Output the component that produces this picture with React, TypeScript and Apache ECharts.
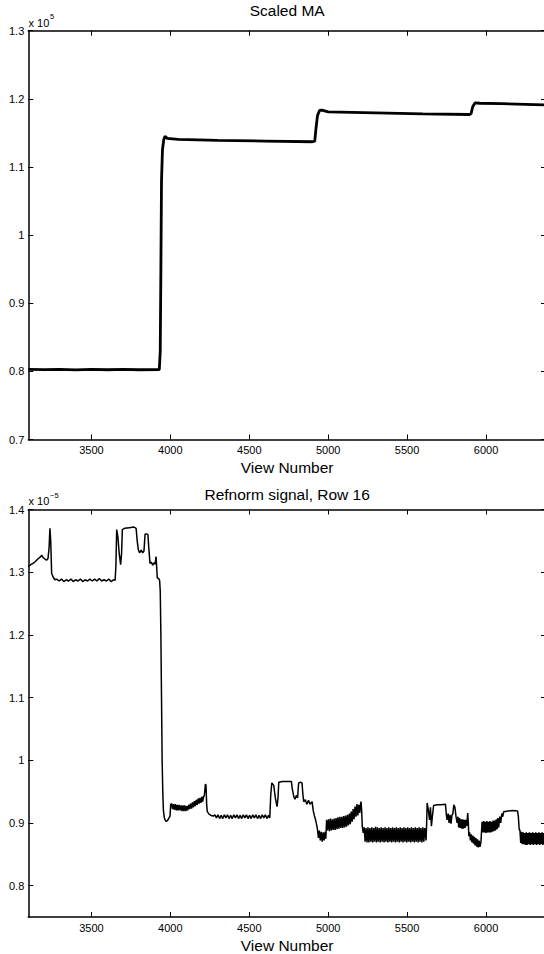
import React, { useEffect, useRef } from "react";
import * as echarts from "echarts";

// View number ticks
const xTickValues = [3500, 4000, 4500, 5000, 5500, 6000];
const viewMin = 3100;
const viewMax = 6380;

// Scaled MA (x 10^5)
const scaledMaTicks = [0.7, 0.8, 0.9, 1, 1.1, 1.2, 1.3];
const scaledMaPoints: [number, number][] = [
  [3100, 0.803], [3200, 0.8025], [3300, 0.8028], [3400, 0.8022], [3500, 0.803], [3600, 0.8024],
  [3700, 0.8028], [3800, 0.8024], [3930, 0.8025], [3936, 0.83], [3940, 0.95], [3944, 1.08],
  [3950, 1.125], [3958, 1.14], [3966, 1.145], [3980, 1.142], [4050, 1.1405], [4300, 1.139],
  [4600, 1.138], [4900, 1.137], [4915, 1.138], [4922, 1.155], [4932, 1.175], [4945, 1.183],
  [4960, 1.1835], [5000, 1.181], [5300, 1.1795], [5600, 1.178], [5895, 1.177], [5905, 1.178],
  [5915, 1.188], [5930, 1.194], [5960, 1.1935], [6100, 1.193], [6250, 1.192], [6380, 1.191],
];

// Refnorm signal, Row 16 (x 10^-5)
const refnormTicks = [0.8, 0.9, 1, 1.1, 1.2, 1.3, 1.4];
const refnormPoints: [number, number][] = [
  [3100, 1.309], [3115, 1.312], [3130, 1.314], [3145, 1.317], [3160, 1.321], [3175, 1.324],
  [3185, 1.327], [3195, 1.323], [3205, 1.321], [3215, 1.319], [3225, 1.322], [3232, 1.34],
  [3237, 1.37], [3242, 1.35], [3248, 1.298], [3258, 1.292], [3269, 1.288],
  [3280, 1.289], [3295, 1.286], [3310, 1.289], [3325, 1.285], [3340, 1.288], [3355, 1.286],
  [3370, 1.289], [3385, 1.285], [3400, 1.288], [3415, 1.286], [3430, 1.289], [3445, 1.285],
  [3460, 1.288], [3475, 1.286], [3490, 1.289], [3505, 1.286], [3520, 1.289], [3535, 1.286],
  [3550, 1.29], [3565, 1.286], [3580, 1.288], [3595, 1.286], [3610, 1.289], [3625, 1.285],
  [3640, 1.288], [3650, 1.287],
  [3655, 1.31], [3660, 1.368], [3668, 1.355], [3676, 1.33], [3685, 1.312], [3691, 1.33],
  [3696, 1.368], [3710, 1.37], [3740, 1.371], [3770, 1.372], [3783, 1.37], [3790, 1.35],
  [3797, 1.336], [3805, 1.331], [3815, 1.335], [3825, 1.331], [3833, 1.334], [3837, 1.35],
  [3840, 1.361], [3850, 1.361], [3858, 1.36], [3863, 1.34], [3871, 1.314], [3880, 1.316],
  [3888, 1.311], [3896, 1.315], [3903, 1.313], [3907, 1.32], [3909, 1.325], [3913, 1.31],
  [3917, 1.291], [3925, 1.29], [3932, 1.287],
  [3936, 1.27], [3940, 1.2], [3944, 1.1], [3948, 1.0], [3952, 0.95], [3956, 0.92],
  [3962, 0.908], [3970, 0.903], [3977, 0.9025], [3985, 0.905], [3993, 0.909], [3998, 0.911],
  [4002, 0.929],
  [4008, 0.931], [4014, 0.922], [4020, 0.93], [4026, 0.921], [4032, 0.93], [4038, 0.92],
  [4044, 0.929], [4050, 0.92], [4056, 0.929], [4062, 0.92], [4068, 0.928], [4074, 0.919],
  [4080, 0.928], [4086, 0.919], [4092, 0.928], [4098, 0.919], [4104, 0.927], [4110, 0.92],
  [4116, 0.929], [4122, 0.922], [4128, 0.931], [4134, 0.923], [4140, 0.933], [4146, 0.925],
  [4152, 0.935], [4158, 0.927], [4164, 0.937], [4170, 0.929], [4176, 0.939], [4182, 0.931],
  [4188, 0.94], [4194, 0.932], [4200, 0.942], [4205, 0.934], [4209, 0.94],
  [4216, 0.945], [4222, 0.962], [4226, 0.96], [4230, 0.93], [4234, 0.918], [4245, 0.914],
  [4258, 0.912], [4272, 0.911],
  [4282, 0.913], [4292, 0.908], [4302, 0.913], [4312, 0.907], [4322, 0.912], [4332, 0.907],
  [4342, 0.913], [4352, 0.908], [4362, 0.913], [4372, 0.907], [4382, 0.912], [4392, 0.907],
  [4402, 0.913], [4412, 0.908], [4422, 0.913], [4432, 0.907], [4442, 0.912], [4452, 0.907],
  [4462, 0.913], [4472, 0.908], [4482, 0.913], [4492, 0.907], [4502, 0.912], [4512, 0.907],
  [4522, 0.913], [4532, 0.908], [4542, 0.913], [4552, 0.907], [4562, 0.912], [4572, 0.907],
  [4582, 0.913], [4592, 0.908], [4602, 0.913], [4612, 0.907], [4622, 0.912], [4630, 0.908],
  [4636, 0.945], [4643, 0.964], [4655, 0.96], [4665, 0.94], [4676, 0.926], [4682, 0.94],
  [4687, 0.965], [4710, 0.966], [4740, 0.966], [4767, 0.966], [4772, 0.955], [4782, 0.942],
  [4790, 0.938], [4798, 0.944], [4806, 0.94], [4810, 0.955], [4813, 0.964], [4825, 0.965],
  [4834, 0.964], [4840, 0.945], [4845, 0.934], [4855, 0.937], [4865, 0.93], [4875, 0.936],
  [4885, 0.93], [4898, 0.934],
  [4905, 0.92], [4912, 0.912], [4920, 0.905], [4926, 0.898], [4932, 0.89], [4938, 0.876],
  [4944, 0.888], [4950, 0.872], [4956, 0.886], [4962, 0.87], [4968, 0.885], [4974, 0.872],
  [4980, 0.886], [4985, 0.875],
  [4990, 0.905], [4996, 0.888], [5002, 0.906], [5008, 0.887], [5014, 0.907], [5020, 0.888],
  [5026, 0.906], [5032, 0.889], [5038, 0.907], [5044, 0.889], [5050, 0.908], [5056, 0.89],
  [5062, 0.909], [5068, 0.891], [5074, 0.91], [5080, 0.892], [5086, 0.91], [5092, 0.892],
  [5098, 0.911], [5104, 0.893], [5110, 0.912], [5116, 0.894], [5122, 0.913], [5128, 0.896],
  [5134, 0.915], [5140, 0.898], [5146, 0.918], [5152, 0.902], [5158, 0.922], [5164, 0.906],
  [5170, 0.926], [5176, 0.91], [5182, 0.93], [5188, 0.912], [5194, 0.929], [5200, 0.916],
  [5204, 0.928], [5208, 0.934], [5212, 0.92],
  [5216, 0.895], [5222, 0.884],
  [5228, 0.893], [5234, 0.87], [5240, 0.892], [5246, 0.869], [5252, 0.893], [5258, 0.869],
  [5264, 0.892], [5270, 0.87], [5276, 0.893], [5282, 0.869], [5288, 0.892], [5294, 0.87],
  [5300, 0.894], [5306, 0.869], [5312, 0.893], [5318, 0.87], [5324, 0.892], [5330, 0.869],
  [5336, 0.893], [5342, 0.87], [5348, 0.892], [5354, 0.869], [5360, 0.893], [5366, 0.87],
  [5372, 0.892], [5378, 0.869], [5384, 0.893], [5390, 0.87], [5396, 0.892], [5402, 0.869],
  [5408, 0.893], [5414, 0.87], [5420, 0.892], [5426, 0.869], [5432, 0.893], [5438, 0.87],
  [5444, 0.892], [5450, 0.869], [5456, 0.893], [5462, 0.87], [5468, 0.892], [5474, 0.869],
  [5480, 0.893], [5486, 0.87], [5492, 0.892], [5498, 0.869], [5504, 0.893], [5510, 0.87],
  [5516, 0.892], [5522, 0.869], [5528, 0.893], [5534, 0.87], [5540, 0.892], [5546, 0.869],
  [5552, 0.893], [5558, 0.87], [5564, 0.892], [5570, 0.869], [5576, 0.893], [5582, 0.87],
  [5588, 0.892], [5594, 0.869], [5600, 0.893], [5606, 0.87], [5612, 0.892], [5620, 0.872],
  [5624, 0.9], [5627, 0.932], [5635, 0.92], [5642, 0.905], [5648, 0.925], [5654, 0.895],
  [5660, 0.91], [5668, 0.928], [5690, 0.929], [5715, 0.929], [5743, 0.93], [5748, 0.915],
  [5753, 0.905], [5760, 0.915], [5766, 0.9], [5772, 0.913], [5778, 0.899], [5784, 0.912],
  [5790, 0.915], [5796, 0.929], [5803, 0.925], [5810, 0.91], [5817, 0.9], [5822, 0.91],
  [5827, 0.893], [5832, 0.908], [5837, 0.892], [5842, 0.906], [5847, 0.891], [5852, 0.906],
  [5857, 0.891], [5862, 0.905], [5867, 0.892], [5872, 0.905], [5878, 0.895], [5884, 0.916],
  [5888, 0.9], [5891, 0.879], [5896, 0.885], [5901, 0.872], [5906, 0.882], [5911, 0.869],
  [5916, 0.88], [5921, 0.867], [5926, 0.878], [5931, 0.864], [5936, 0.876], [5941, 0.862],
  [5946, 0.874], [5951, 0.861], [5956, 0.872], [5962, 0.862], [5968, 0.87],
  [5975, 0.902], [5980, 0.885], [5985, 0.903], [5990, 0.885], [5995, 0.902], [6000, 0.884],
  [6005, 0.903], [6010, 0.885], [6015, 0.902], [6020, 0.885], [6025, 0.903], [6030, 0.885],
  [6035, 0.902], [6040, 0.886], [6045, 0.904], [6050, 0.887], [6055, 0.904], [6060, 0.888],
  [6065, 0.906], [6070, 0.89], [6075, 0.908], [6080, 0.893], [6087, 0.91], [6093, 0.9],
  [6100, 0.915], [6106, 0.91], [6112, 0.918], [6140, 0.919], [6170, 0.92], [6200, 0.919],
  [6205, 0.91], [6210, 0.89],
  [6215, 0.888], [6220, 0.868], [6225, 0.886], [6230, 0.866], [6235, 0.885], [6240, 0.866],
  [6245, 0.884], [6250, 0.865], [6255, 0.885], [6260, 0.865], [6265, 0.884], [6270, 0.866],
  [6275, 0.885], [6280, 0.865], [6285, 0.884], [6290, 0.866], [6295, 0.885], [6300, 0.865],
  [6305, 0.884], [6310, 0.866], [6315, 0.885], [6320, 0.865], [6325, 0.884], [6330, 0.866],
  [6335, 0.885], [6340, 0.865], [6345, 0.884], [6350, 0.866], [6355, 0.885], [6360, 0.865],
  [6365, 0.884], [6370, 0.866], [6375, 0.884], [6380, 0.87],
];

const FONT = "'Liberation Sans', Arial, Helvetica, sans-serif";
const CHART_W = 560;
const PLOT_LEFT = 28.3;
const PLOT_RIGHT = 546;

function xAxisDef(gridIndex: number, position: "bottom" | "top", withLabels: boolean) {
  return {
    type: "value",
    gridIndex,
    position,
    min: viewMin,
    max: viewMax,
    splitLine: { show: false },
    axisLine: { show: true, onZero: false, lineStyle: { color: "#000", width: 1.5 } },
    axisTick: {
      show: true,
      inside: true,
      length: 5,
      customValues: xTickValues,
      lineStyle: { color: "#000", width: 1 },
    },
    axisLabel: {
      show: withLabels,
      customValues: xTickValues,
      margin: 5,
      fontSize: 11,
      fontFamily: FONT,
      color: "#000",
      formatter: (v: number) => String(v),
    },
    name: withLabels ? "View Number" : "",
    nameLocation: "middle",
    nameGap: 20,
    nameTextStyle: { fontSize: 15.5, fontFamily: FONT, color: "#000" },
  };
}

function yAxisDef(gridIndex: number, position: "left" | "right", min: number, max: number, ticks: number[], withLabels: boolean) {
  return {
    type: "value",
    gridIndex,
    position,
    min,
    max,
    splitLine: { show: false },
    axisLine: { show: true, onZero: false, lineStyle: { color: "#000", width: 1.5 } },
    axisTick: {
      show: true,
      inside: true,
      length: 5,
      customValues: ticks,
      lineStyle: { color: "#000", width: 1 },
    },
    axisLabel: {
      show: withLabels,
      customValues: ticks,
      margin: 4,
      fontSize: 11,
      fontFamily: FONT,
      color: "#000",
      formatter: (v: number) => String(Math.round(v * 10) / 10),
    },
  };
}

function textEl(text: string, x: number, y: number, size: number, align: string) {
  return {
    type: "text",
    x,
    y,
    silent: true,
    style: {
      text,
      fill: "#000",
      fontSize: size,
      fontFamily: FONT,
      align,
      textAlign: align,
      verticalAlign: "middle",
      textVerticalAlign: "middle",
    },
  };
}

export default function App() {
  const ref = useRef<HTMLDivElement>(null);

  useEffect(() => {
    if (!ref.current) return;
    const chart = echarts.init(ref.current, undefined, { renderer: "svg" });
    const center = (PLOT_LEFT + PLOT_RIGHT) / 2;
    chart.setOption({
      animation: false,
      backgroundColor: "#fff",
      grid: [
        { left: PLOT_LEFT, top: 30.7, width: PLOT_RIGHT - PLOT_LEFT, height: 408.8, containLabel: false },
        { left: PLOT_LEFT, top: 509.5, width: PLOT_RIGHT - PLOT_LEFT, height: 407.8, containLabel: false },
      ],
      xAxis: [
        xAxisDef(0, "bottom", true),
        xAxisDef(0, "top", false),
        xAxisDef(1, "bottom", true),
        xAxisDef(1, "top", false),
      ],
      yAxis: [
        yAxisDef(0, "left", 0.7, 1.3, scaledMaTicks, true),
        yAxisDef(0, "right", 0.7, 1.3, scaledMaTicks, false),
        yAxisDef(1, "left", 0.75, 1.4, refnormTicks, true),
        yAxisDef(1, "right", 0.75, 1.4, refnormTicks, false),
      ],
      series: [
        {
          name: "Scaled MA",
          type: "line",
          xAxisIndex: 0,
          yAxisIndex: 0,
          data: scaledMaPoints,
          showSymbol: false,
          symbol: "none",
          lineStyle: { color: "#000", width: 2.8 },
          clip: true,
        },
        {
          name: "Refnorm signal, Row 16",
          type: "line",
          xAxisIndex: 2,
          yAxisIndex: 2,
          data: refnormPoints,
          showSymbol: false,
          symbol: "none",
          lineStyle: { color: "#000", width: 1.5 },
          clip: true,
        },
      ],
      graphic: [
        textEl("Scaled MA", center, 10.5, 15.5, "center"),
        textEl("Refnorm signal, Row 16", center, 494, 15.5, "center"),
        textEl("x 10", 28.5, 22.5, 11, "left"),
        textEl("5", 50, 16, 7.5, "left"),
        textEl("x 10", 28.5, 501, 11, "left"),
        textEl("\u22125", 50, 495.5, 7.5, "left"),
      ],
    });
    return () => {
      chart.dispose();
    };
  }, []);

  return (
    <div
      style={{
        position: "fixed",
        left: 0,
        top: 0,
        width: 544,
        height: 954,
        overflow: "hidden",
        background: "#fff",
      }}
    >
      <div ref={ref} style={{ width: CHART_W, height: 954 }} />
    </div>
  );
}
